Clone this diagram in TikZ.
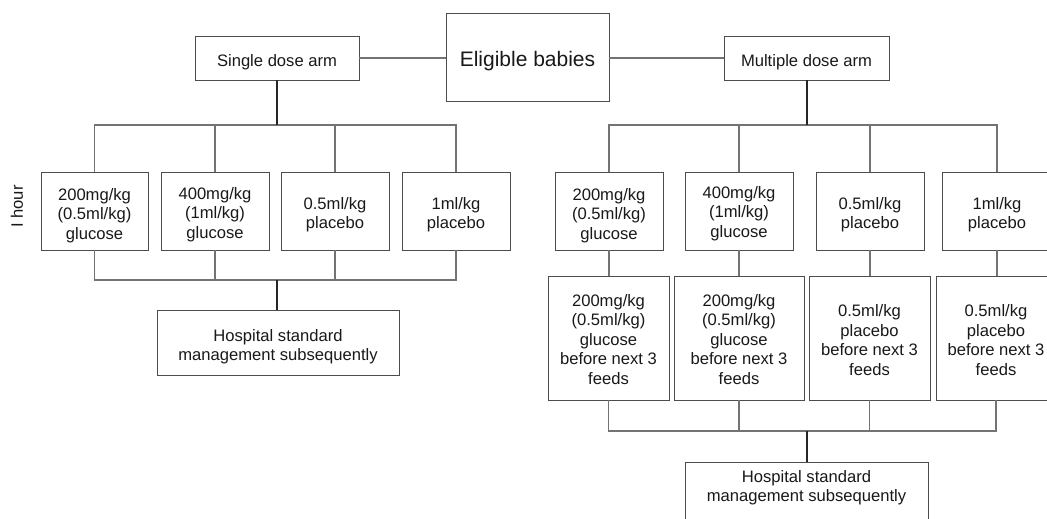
\documentclass[tikz,border=0pt]{standalone}
\usepackage{fontspec}
\setmainfont{Liberation Sans}
\newcommand\myboxtop[1]{\rule{0pt}{#1pt}}
\begin{document}
\begin{tikzpicture}[x=1pt,y=-1pt,
  box/.style={draw=black!70, line width=0.9pt, fill=white, align=center, inner sep=0pt,
    font=\fontsize{16.6}{19.5}\selectfont, text=black!90},
  conn/.style={draw=black!55, line width=1.1pt},
  trunk/.style={draw=black!85, line width=1.8pt}]
\useasboundingbox (0,0) rectangle (1047,519);
\clip (0,0) rectangle (1047,519);
% top row
\node[box, minimum width=163, minimum height=88, font=\fontsize{21}{25}\selectfont] (elig) at (527.5,57) {\myboxtop{23}Eligible babies};
\node[box, minimum width=164, minimum height=44] (sd) at (277,58) {\myboxtop{20}Single dose arm};
\node[box, minimum width=165, minimum height=44] (md) at (806.5,58) {\myboxtop{20}Multiple dose arm};
% single arm boxes
\node[box, minimum width=107, minimum height=78] (L1) at (94.5,211) {\myboxtop{21}200mg/kg\\(0.5ml/kg)\\glucose};
\node[box, minimum width=108, minimum height=78] (L2) at (215,211) {\myboxtop{19}400mg/kg\\(1ml/kg)\\glucose};
\node[box, minimum width=108, minimum height=78] (L3) at (335,211) {\myboxtop{19}0.5ml/kg\\placebo};
\node[box, minimum width=108, minimum height=78] (L4) at (456,211) {\myboxtop{19}1ml/kg\\placebo};
\node[box, minimum width=242, minimum height=65] (LH) at (278,342.5) {\myboxtop{20}Hospital standard\\management subsequently};
% multiple arm boxes
\node[box, minimum width=108, minimum height=78] (R1) at (609,211) {\myboxtop{21}200mg/kg\\(0.5ml/kg)\\glucose};
\node[box, minimum width=108, minimum height=78] (R2) at (739,211) {\myboxtop{17}400mg/kg\\(1ml/kg)\\glucose};
\node[box, minimum width=108, minimum height=78] (R3) at (870,211) {\myboxtop{19}0.5ml/kg\\placebo};
\node[box, minimum width=110, minimum height=78] (R4) at (997,211) {\myboxtop{19}1ml/kg\\placebo};
\node[box, minimum width=121, minimum height=124] (S1) at (608.5,338) {\myboxtop{15}200mg/kg\\(0.5ml/kg)\\glucose\\before next 3\\feeds};
\node[box, minimum width=130, minimum height=124] (S2) at (739,338) {\myboxtop{15}200mg/kg\\(0.5ml/kg)\\glucose\\before next 3\\feeds};
\node[box, minimum width=121, minimum height=124] (S3) at (869.5,338) {\myboxtop{16}0.5ml/kg\\placebo\\before next 3\\feeds};
\node[box, minimum width=120, minimum height=124] (S4) at (996,338) {\myboxtop{16}0.5ml/kg\\placebo\\before next 3\\feeds};
\node[box, minimum width=243, anchor=north, inner ysep=8pt, text depth=60pt] (RH) at (806.5,462) {Hospital standard\\management subsequently};
% side label
\node[rotate=90, font=\fontsize{16.6}{19.5}\selectfont, text=black!90] (hour) at (17,206.5) {I hour};
% connectors top
\draw[conn] (sd.east) -- (sd.east -| elig.west);
\draw[conn] (md.west) -- (md.west -| elig.east);
% single arm
\coordinate (tL) at (277,125);
\coordinate (bL) at (277,280);
\draw[conn] (tL) -| (L1.north);
\draw[conn] (tL) -| (L2.north);
\draw[conn] (tL) -| (L3.north);
\draw[conn] (tL) -| (L4.north);
\draw[trunk] (sd.south) -- (tL);
\draw[conn] (L1.south) |- (bL);
\draw[conn] (L2.south) |- (bL);
\draw[conn] (L3.south) |- (bL);
\draw[conn] (L4.south) |- (bL);
\draw[trunk] (bL) -- (bL |- LH.north);
% multiple arm
\coordinate (tR) at (807,125);
\coordinate (bR) at (807,431);
\draw[conn] (tR) -| (R1.north);
\draw[conn] (tR) -| (R2.north);
\draw[conn] (tR) -| (R3.north);
\draw[conn] (tR) -| (R4.north);
\draw[trunk] (md.south -| tR) -- (tR);
\draw[conn] (R1.south) -- (R1.south |- S1.north);
\draw[conn] (R2.south) -- (R2.south |- S2.north);
\draw[conn] (R3.south) -- (R3.south |- S3.north);
\draw[conn] (R4.south) -- (R4.south |- S4.north);
\draw[conn] (S1.south) |- (bR);
\draw[conn] (S2.south) |- (bR);
\draw[conn] (S3.south) |- (bR);
\draw[conn] (S4.south) |- (bR);
\draw[trunk] (bR) -- (bR |- RH.north);
\end{tikzpicture}
\end{document}
